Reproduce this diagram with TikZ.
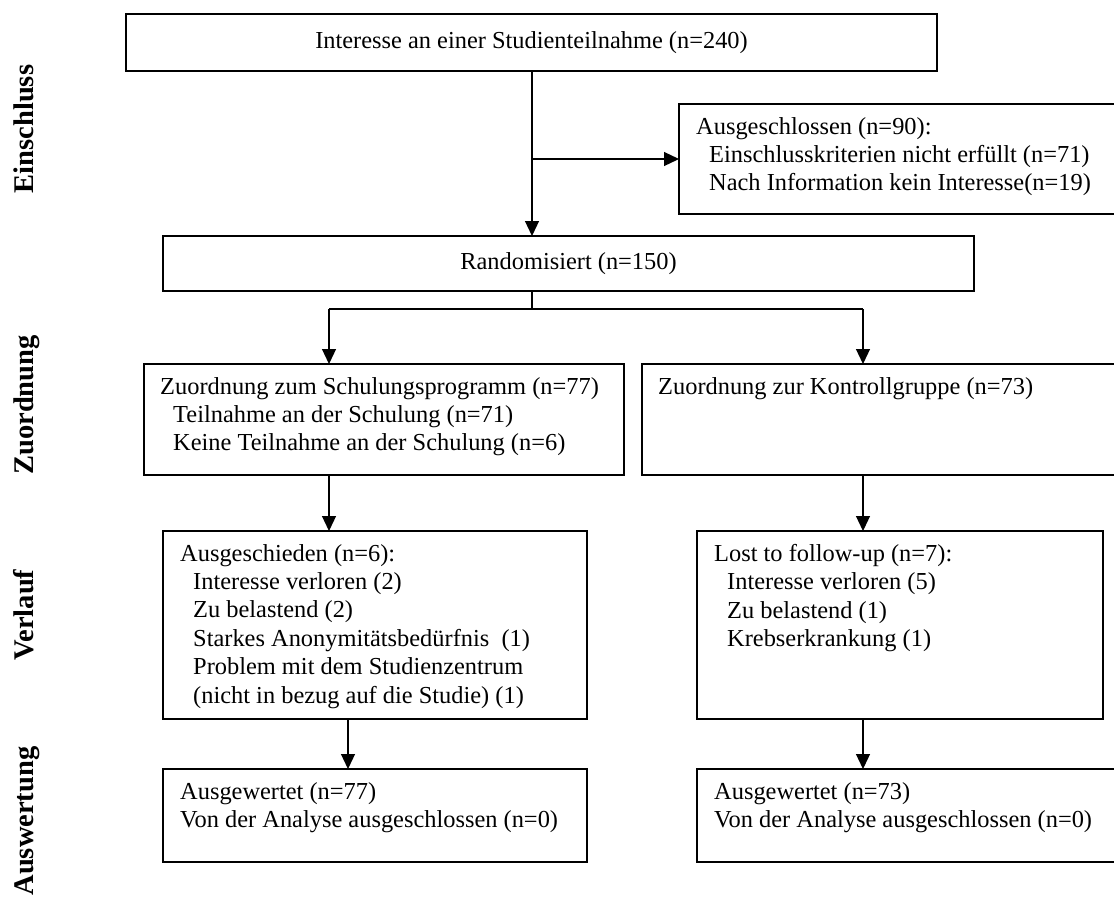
\documentclass[tikz,border=0pt]{standalone}
\usepackage{fontspec}
\setmainfont{Liberation Serif}
\usetikzlibrary{arrows.meta}

\tikzset{
  box/.style={draw,rectangle,line width=1.2pt,inner sep=0,outer sep=0},
  txt/.style={font=\fontsize{24.4}{28.4}\selectfont},
  boxtext/.style={txt,anchor=north west,align=left,inner sep=0},
  phase/.style={rotate=90,anchor=base,inner sep=0,font=\bfseries\fontsize{28.5}{30}\selectfont},
  arr/.style={line width=1.2pt,-{Triangle[length=15pt,width=14pt]}},
  conn/.style={line width=1.2pt}
}
\newcommand{\ind}{\hspace*{13pt}}

\begin{document}
\begin{tikzpicture}[x=1pt,y=-1pt]
\useasboundingbox (0,0) rectangle (1114,898);
\fill[white] (0,0) rectangle (1114,898);
\clip (0,0) rectangle (1114,898);

% phases
\node[phase] (einschluss) at (33,129) {Einschluss};
\node[phase] (zuordnung) at (33,405) {Zuordnung};
\node[phase] (verlauf) at (33,615) {Verlauf};
\node[phase] (auswertung) at (33,821) {Auswertung};

% boxes
\node[box,txt,minimum width=811,minimum height=57] (interesse) at (531.5,42.5) {Interesse an einer Studienteilnahme (n=240)};
\node[box,minimum width=445,minimum height=110] (ausgeschl) at (901.5,159) {};
\node[box,txt,minimum width=811,minimum height=55] (random) at (568.5,263.5) {Randomisiert (n=150)};
\node[box,minimum width=480,minimum height=111] (zuschulung) at (384,419.5) {};
\node[box,minimum width=482,minimum height=111] (zukontrolle) at (883,419.5) {};
\node[box,minimum width=424,minimum height=188] (ausgeschied) at (375,625) {};
\node[box,minimum width=406,minimum height=188] (lost) at (900,625) {};
\node[box,minimum width=424,minimum height=93] (auswschulung) at (375,815.5) {};
\node[box,minimum width=427,minimum height=93] (auswkontrolle) at (910.5,815.5) {};

% box texts
\node[boxtext] (ausgeschltxt) at ([shift={(17,13)}]ausgeschl.north west) {Ausgeschlossen (n=90):\\
\ind Einschlusskriterien nicht erfüllt (n=71)\\
\ind Nach Information kein Interesse(n=19)};
\node[boxtext] (zuschulungtxt) at ([shift={(16,13)}]zuschulung.north west) {Zuordnung zum Schulungsprogramm (n=77)\\
\ind Teilnahme an der Schulung (n=71)\\
\ind Keine Teilnahme an der Schulung (n=6)};
\node[boxtext] (zukontrolletxt) at ([shift={(16,13)}]zukontrolle.north west) {Zuordnung zur Kontrollgruppe (n=73)};
\node[boxtext] (ausgeschiedtxt) at ([shift={(17,13)}]ausgeschied.north west) {Ausgeschieden (n=6):\\
\ind Interesse verloren (2)\\
\ind Zu belastend (2)\\
\ind Starkes Anonymitätsbedürfnis\ \ (1)\\
\ind Problem mit dem Studienzentrum\\
\ind (nicht in bezug auf die Studie) (1)};
\node[boxtext] (losttxt) at ([shift={(17,13)}]lost.north west) {Lost to follow-up (n=7):\\
\ind Interesse verloren (5)\\
\ind Zu belastend (1)\\
\ind Krebserkrankung (1)};
\node[boxtext] (auswschulungtxt) at ([shift={(17,13)}]auswschulung.north west) {Ausgewertet (n=77)\\
Von der Analyse ausgeschlossen (n=0)};
\node[boxtext] (auswkontrolletxt) at ([shift={(17,13)}]auswkontrolle.north west) {Ausgewertet (n=73)\\
Von der Analyse ausgeschlossen (n=0)};

% connectors
\coordinate (split) at (532,309);
\coordinate (splitl) at (329,309);
\coordinate (splitr) at (863,309);
\coordinate (downl) at (348,744);
\draw[arr] (interesse.south -| split) -- (random.north -| split);
\draw[arr] (ausgeschl.west -| split) -- (ausgeschl.west);
\draw[conn] (random.south -| split) -- (split);
\draw[conn] (splitl) -- (splitr);
\draw[arr] (splitl) -- (zuschulung.north -| splitl);
\draw[arr] (splitr) -- (zukontrolle.north -| splitr);
\draw[arr] (zuschulung.south -| splitl) -- (ausgeschied.north -| splitl);
\draw[arr] (zukontrolle.south -| splitr) -- (lost.north -| splitr);
\draw[arr] (ausgeschied.south -| downl) -- (auswschulung.north -| downl);
\draw[arr] (lost.south -| splitr) -- (auswkontrolle.north -| splitr);
\end{tikzpicture}
\end{document}
